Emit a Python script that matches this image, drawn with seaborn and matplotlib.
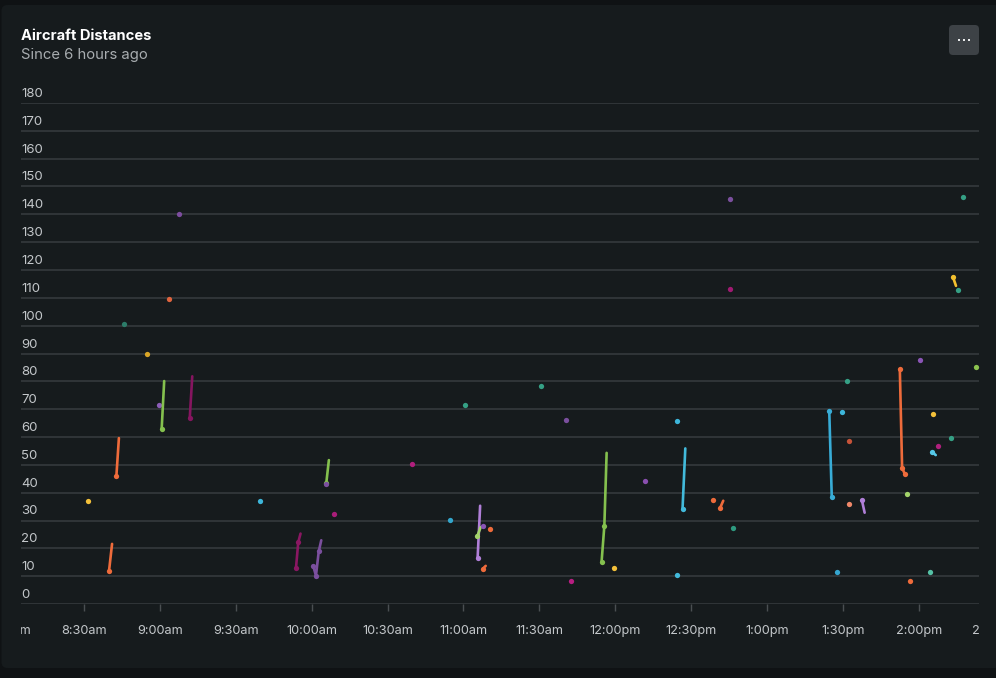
import matplotlib
matplotlib.use("Agg")
import matplotlib.pyplot as plt
import seaborn as sns
import pandas as pd
import numpy as np
from matplotlib.patches import FancyBboxPatch, Rectangle
from matplotlib.transforms import Bbox, blended_transform_factory, offset_copy, IdentityTransform
import matplotlib.dates as mdates

# ---------------- data ----------------
title = "Aircraft Distances"
subtitle = "Since 6 hours ago"
day = "2024-05-01 "

aircraft = [
    "S01",
    "S02", "S02",
    "S03", "S03",
    "S04", "S05", "S06", "S07",
    "S08", "S08",
    "S09", "S09",
    "S10", "S11",
    "S12", "S12", "S12",
    "S13", "S13", "S13", "S13",
    "S14", "S14",
    "S15", "S16", "S17", "S18", "S19",
    "S20", "S20",
    "S21", "S21",
    "S22", "S23",
    "S24", "S24",
    "S25", "S26", "S27",
    "S28", "S28", "S28",
    "S29", "S30", "S31",
    "S32", "S32",
    "S33", "S34",
    "S35", "S35",
    "S36", "S37", "S38",
    "S39", "S39",
    "S40", "S41", "S42", "S43",
    "S44", "S44",
    "S45",
    "S46", "S46", "S46",
    "S47", "S48", "S49", "S50", "S51",
    "S52", "S52",
    "S53", "S54", "S55", "S56",
    "S57", "S57",
    "S58",
]
times = [
    "08:31:36",
    "08:39:54", "08:41:06",
    "08:42:48", "08:43:48",
    "08:45:48", "08:54:48", "09:03:42", "08:59:48",
    "09:00:42", "09:01:42",
    "09:11:48", "09:12:48",
    "09:07:30", "09:39:36",
    "09:53:48", "09:54:42", "09:55:36",
    "10:00:36", "10:01:42", "10:02:48", "10:03:48",
    "10:05:48", "10:06:48",
    "10:05:48", "10:08:42", "10:39:36", "10:54:42", "11:00:36",
    "11:05:36", "11:06:36",
    "11:05:30", "11:06:48",
    "11:07:42", "11:10:36",
    "11:07:42", "11:08:48",
    "11:30:36", "11:40:30", "11:42:36",
    "11:54:36", "11:55:42", "11:56:36",
    "11:59:36", "12:11:36", "12:24:36",
    "12:26:36", "12:27:42",
    "12:24:36", "12:38:36",
    "12:41:30", "12:42:42",
    "12:46:30", "12:45:18", "12:45:18",
    "13:24:36", "13:25:36",
    "13:29:36", "13:31:36", "13:32:30", "13:32:30",
    "13:37:30", "13:38:36",
    "13:27:36",
    "13:52:30", "13:53:24", "13:54:30",
    "14:00:36", "14:22:36", "14:05:36", "14:12:36", "14:07:30",
    "14:05:24", "14:06:42",
    "13:55:24", "14:04:30", "13:56:30", "14:17:30",
    "14:13:30", "14:14:42",
    "14:15:30",
]
distances = [
    37.0,
    11.9, 21.6,
    45.9, 59.6,
    100.7, 89.8, 109.5, 71.4,
    62.8, 80.1,
    66.7, 81.8,
    140.1, 37.1,
    12.9, 22.2, 25.3,
    13.7, 10.2, 18.9, 22.9,
    43.6, 51.7,
    43.0, 32.4, 50.2, 30.3, 71.5,
    16.5, 35.3,
    24.4, 27.6,
    27.9, 26.8,
    12.7, 13.7,
    78.3, 66.1, 8.3,
    15.1, 28.1, 54.3,
    12.8, 44.1, 65.9,
    34.0, 55.9,
    10.4, 37.4,
    34.6, 37.1,
    27.2, 145.5, 113.2,
    69.5, 38.3,
    69.0, 80.1, 58.5, 35.8,
    37.3, 32.8,
    11.5,
    84.4, 49.0, 46.6,
    87.6, 85.0, 68.2, 59.5, 56.9,
    54.5, 53.5,
    39.6, 11.5, 8.3, 146.3,
    117.5, 114.3,
    112.9,
]
aircraft_colors = {
    "S01": "#f4c13a", "S02": "#ee6b3b", "S03": "#ee6b3b", "S04": "#2c7c69",
    "S05": "#d9a526", "S06": "#e0643e", "S07": "#8c5db8", "S08": "#84c04e",
    "S09": "#85155f", "S10": "#7d4d9f", "S11": "#3db6da", "S12": "#8a1762",
    "S13": "#7b4f9e", "S14": "#84c04e", "S15": "#7b4f9e", "S16": "#a81d78",
    "S17": "#b01f7d", "S18": "#33a6cc", "S19": "#35a085", "S20": "#b07fd8",
    "S21": "#a3d46a", "S22": "#8a55b6", "S23": "#ee6b3b", "S24": "#ee6b3b",
    "S25": "#35a085", "S26": "#7b4f9e", "S27": "#b81e82", "S28": "#84c04e",
    "S29": "#f4c13a", "S30": "#8a4fb0", "S31": "#3db6da", "S32": "#42badb",
    "S33": "#42badb", "S34": "#ee6b3b", "S35": "#ee6b3b", "S36": "#2e9a80",
    "S37": "#7b4f9e", "S38": "#a01a72", "S39": "#38acd6", "S40": "#3db6da",
    "S41": "#35a085", "S42": "#c65339", "S43": "#f0886a", "S44": "#b07fd8",
    "S45": "#35a6d0", "S46": "#ee6b3b", "S47": "#8a55b6", "S48": "#8cc34f",
    "S49": "#f4c13a", "S50": "#35a085", "S51": "#b01f7d", "S52": "#55c8e8",
    "S53": "#a3d46a", "S54": "#55c2a6", "S55": "#ee6b3b", "S56": "#35a085",
    "S57": "#f2c02f", "S58": "#35a085",
}
# tracks whose final point also carries a dot
dotted_to_end = ["S39", "S46"]
tick_times = ["08:00", "08:30", "09:00", "09:30", "10:00", "10:30", "11:00",
              "11:30", "12:00", "12:30", "13:00", "13:30", "14:00", "14:30"]
tick_labels = ["8:00am", "8:30am", "9:00am", "9:30am", "10:00am", "10:30am",
               "11:00am", "11:30am", "12:00pm", "12:30pm", "1:00pm", "1:30pm",
               "2:00pm", "2:30pm"]
y_ticks = list(range(0, 181, 10))
x_start, x_end = "08:05:06", "14:23:48"

# ---------------- style ----------------
W, H = 996, 678
OUTER = "#0f1214"
PANEL = "#161b1d"
GRID = "#373c3f"
TXT = "#c3c7ca"

sns.set_theme(style="dark")
plt.rcParams["font.family"] = ["Inter", "DejaVu Sans"]

fig = plt.figure(figsize=(W / 100, H / 100), dpi=100, facecolor=OUTER)
panel = FancyBboxPatch((1.5, 10), 1000, 663, boxstyle="round,pad=0,rounding_size=6",
                       transform=IdentityTransform(), facecolor=PANEL, edgecolor="none",
                       zorder=-10)
fig.patches.append(panel)

left, right, top, bottom = 21, 979, 103, 604
ax = fig.add_axes([left / W, (H - bottom) / H, (right - left) / W, (bottom - top) / H])
ax.set_facecolor("none")
ax.set_zorder(1)
for s in ax.spines.values():
    s.set_visible(False)

df = pd.DataFrame({"aircraft": aircraft,
                   "time": pd.to_datetime([day + t for t in times]),
                   "distance": distances})

for name in dict.fromkeys(aircraft):
    sub = df[df["aircraft"] == name].sort_values("time")
    n = len(sub)
    if n == 1 or name in dotted_to_end:
        marks = list(range(n))
    else:
        marks = list(range(n - 1))
    sns.lineplot(data=sub, x="time", y="distance", ax=ax, color=aircraft_colors[name],
                 linewidth=1.9, marker="o", markersize=3.8, markeredgewidth=0,
                 markevery=marks, estimator=None, sort=True, legend=False, zorder=3)

ax.set_xlim(pd.Timestamp(day + x_start), pd.Timestamp(day + x_end))
ax.set_ylim(0, 180)
ax.set_yticks(y_ticks)
ax.yaxis.grid(True, color=GRID, linewidth=1.1)
ax.xaxis.grid(False)
ax.set_axisbelow(True)
ax.set_xlabel("")
ax.set_ylabel("")
ax.tick_params(axis="y", left=False, labelleft=False)
in_range = [pd.Timestamp(day + t) for t in tick_times
            if pd.Timestamp(day + x_start) <= pd.Timestamp(day + t) <= pd.Timestamp(day + x_end)]
ax.set_xticks(in_range)
ax.tick_params(axis="x", bottom=True, labelbottom=False, length=5, width=1,
               color="#4a4f52", pad=0, direction="out")

# y labels above gridlines
ytrans = offset_copy(blended_transform_factory(ax.transAxes, ax.transData), fig=fig, y=6, units="dots")
for v in y_ticks:
    ax.text(0, v, str(v), transform=ytrans, ha="left", va="baseline",
            fontsize=9.5, color=TXT, clip_on=False)

# x labels, clipped to plot width
xtrans = blended_transform_factory(ax.transData, fig.transFigure)
clip = Bbox.from_extents(left, 0, right, H)
for t, lab in zip(tick_times, tick_labels):
    x = mdates.date2num(pd.Timestamp(day + t))
    txt = fig.text(x, (H - 631) / H, lab, transform=xtrans, ha="center", va="center",
                   fontsize=9.2, color=TXT)
    txt.set_clip_box(clip)
    txt.set_clip_on(True)

# title
fig.text(21 / W, (H - 40) / H, title, ha="left", va="baseline", fontsize=10.6,
         fontweight="bold", color="#ffffff")
fig.text(21 / W, (H - 59) / H, subtitle, ha="left", va="baseline", fontsize=10.7,
         color="#a8adb0")

# menu button
btn = FancyBboxPatch((949, H - 55), 30, 30, boxstyle="round,pad=0,rounding_size=4",
                     transform=IdentityTransform(), facecolor="#3d4246", edgecolor="none",
                     zorder=2)
fig.patches.append(btn)
for dx in (958, 963, 968):
    fig.patches.append(Rectangle((dx, H - 41), 2, 2, transform=IdentityTransform(),
                                 facecolor="#e8eaeb", edgecolor="none", zorder=3))

fig.savefig("out.png", dpi=100, facecolor=OUTER)
